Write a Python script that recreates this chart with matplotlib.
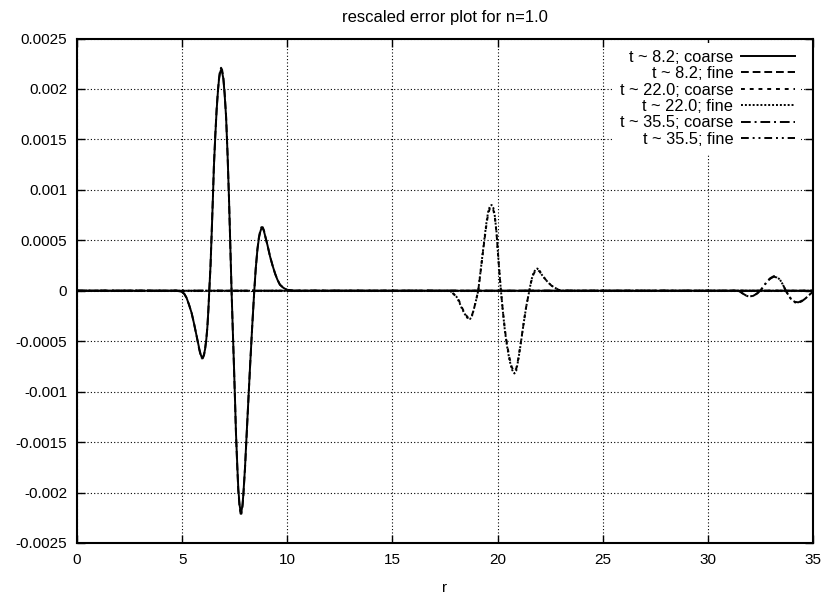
import numpy as np
import matplotlib.pyplot as plt

plt.rcParams['font.family'] = ['Liberation Sans', 'DejaVu Sans']

# packet near t ~ 8.2
r_a = [0, 4.5, 4.74, 4.98, 5.1, 5.21, 5.33, 5.45, 5.57, 5.69, 5.81, 5.88, 5.93, 5.98, 6.04,
       6.09, 6.15, 6.20, 6.25, 6.29, 6.35, 6.40, 6.46, 6.51, 6.58, 6.64, 6.70, 6.75, 6.80,
       6.85, 6.90, 6.96, 7.02, 7.09, 7.16, 7.23, 7.29, 7.35, 7.41, 7.47, 7.52, 7.56, 7.62,
       7.67, 7.73, 7.78, 7.82, 7.87, 7.91, 7.99, 8.07, 8.15, 8.23, 8.33, 8.43, 8.50, 8.58,
       8.65, 8.71, 8.77, 8.83, 8.89, 8.94, 9.06, 9.18, 9.30, 9.42, 9.53, 9.65, 9.81, 9.97,
       10.29, 35]
e_a_coarse = [0, 0, 0, -0.00001, -0.00003, -0.00007, -0.00014, -0.00022, -0.00033, -0.00045,
              -0.00057, -0.00063, -0.00066, -0.00066, -0.00063, -0.00058, -0.00048, -0.00036,
              -0.00018, 0, 0.00025, 0.00054, 0.0009, 0.00123, 0.00155, 0.00179, 0.00197,
              0.00209, 0.00216, 0.00219, 0.00217, 0.0021, 0.00195, 0.00172, 0.00135, 0.0009,
              0.00045, 0, -0.0004, -0.00078, -0.00112, -0.00141, -0.00172, -0.00196, -0.00212,
              -0.00219, -0.00219, -0.00212, -0.00202, -0.00175, -0.00141, -0.00108, -0.00075,
              -0.00036, 0, 0.00022, 0.00041, 0.00052, 0.00058, 0.00062, 0.00062, 0.00059,
              0.00055, 0.00045, 0.00034, 0.00025, 0.00017, 0.00011, 0.00006, 0.00003, 0.00001,
              0, 0]
e_a_fine = [0, 0, 0, -0.00001, -0.00003, -0.00007, -0.00014, -0.00022, -0.00033, -0.00045,
            -0.00058, -0.00064, -0.00067, -0.00067, -0.00064, -0.00058, -0.00048, -0.00036,
            -0.00018, 0, 0.00025, 0.00055, 0.00091, 0.00124, 0.00156, 0.0018, 0.00198,
            0.0021, 0.00218, 0.00221, 0.00219, 0.00211, 0.00196, 0.00173, 0.00135, 0.0009,
            0.00045, 0, -0.0004, -0.00079, -0.00113, -0.00142, -0.00174, -0.00198, -0.00214,
            -0.00221, -0.00221, -0.00214, -0.00203, -0.00176, -0.00142, -0.00108, -0.00075,
            -0.00036, 0, 0.00022, 0.00041, 0.00053, 0.00059, 0.00063, 0.00063, 0.0006,
            0.00055, 0.00045, 0.00034, 0.00025, 0.00017, 0.00011, 0.00006, 0.00003, 0.00001,
            0, 0]

# packet near t ~ 22.0
r_b = [0, 17.5, 17.74, 17.9, 18.05, 18.17, 18.29, 18.41, 18.53, 18.61, 18.69, 18.77, 18.85,
       18.96, 19.08, 19.16, 19.24, 19.32, 19.40, 19.48, 19.56, 19.64, 19.72, 19.80, 19.87,
       19.95, 20.03, 20.10, 20.16, 20.25, 20.35, 20.45, 20.56, 20.68, 20.80, 20.89, 20.98,
       21.10, 21.22, 21.36, 21.51, 21.60, 21.70, 21.80, 21.89, 22.00, 22.10, 22.25, 22.41,
       22.57, 22.73, 22.89, 23.05, 35]
e_b_coarse = [0, 0, 0, -0.00003, -0.00006, -0.0001, -0.00016, -0.00021, -0.00025, -0.00027,
              -0.00027, -0.00025, -0.0002, -0.00011, 0, 0.00013, 0.00027, 0.00041, 0.00054,
              0.00067, 0.00077, 0.00082, 0.00083, 0.0008, 0.00073, 0.00057, 0.00034, 0.00015,
              0, -0.0002, -0.00039, -0.00053, -0.00066, -0.00076, -0.0008, -0.00077, -0.00068,
              -0.00052, -0.00035, -0.00016, 0, 0.00009, 0.00016, 0.0002, 0.00021, 0.00019,
              0.00016, 0.00012, 0.00008, 0.00005, 0.00003, 0.00001, 0, 0]
e_b_fine = [0, 0, 0, -0.00003, -0.00006, -0.00011, -0.00017, -0.00022, -0.00026, -0.00028,
            -0.00028, -0.00026, -0.0002, -0.00011, 0, 0.00014, 0.00028, 0.00042, 0.00056,
            0.00069, 0.00079, 0.00084, 0.00085, 0.00082, 0.00074, 0.00058, 0.00034, 0.00015,
            0, -0.0002, -0.0004, -0.00055, -0.00068, -0.00078, -0.00082, -0.00079, -0.00069,
            -0.00053, -0.00035, -0.00016, 0, 0.0001, 0.00017, 0.00021, 0.00022, 0.0002,
            0.00016, 0.00012, 0.00008, 0.00005, 0.00003, 0.00001, 0, 0]

# packet near t ~ 35.5
r_c = [0, 31.2, 31.45, 31.68, 31.84, 32.00, 32.16, 32.32, 32.44, 32.56, 32.68, 32.80, 32.97,
       33.14, 33.29, 33.43, 33.57, 33.71, 33.85, 33.98, 34.14, 34.30, 34.46, 34.62, 34.78,
       34.94, 35]
e_c_coarse = [0, 0, 0, -0.00003, -0.00005, -0.000056, -0.00005, -0.00003, -0.00001, 0.000017,
              0.00005, 0.00009, 0.00012, 0.00014, 0.00013, 0.00011, 0.00006, 0, -0.00005,
              -0.00009, -0.00011, -0.000115, -0.0001, -0.00008, -0.00005, -0.00002, -0.00001]
e_c_fine = [0, 0, 0, -0.00003, -0.00005, -0.00006, -0.00005, -0.00003, -0.00001, 0.00002,
            0.00005, 0.00009, 0.000125, 0.000145, 0.000135, 0.00011, 0.00006, 0, -0.00005,
            -0.00009, -0.000115, -0.00012, -0.000105, -0.00008, -0.00005, -0.00002, -0.00001]

labels = ['t ~ 8.2; coarse', 't ~ 8.2; fine', 't ~ 22.0; coarse',
          't ~ 22.0; fine', 't ~ 35.5; coarse', 't ~ 35.5; fine']
xticks = [0, 5, 10, 15, 20, 25, 30, 35]
yticks = [-0.0025, -0.002, -0.0015, -0.001, -0.0005, 0, 0.0005, 0.001, 0.0015, 0.002, 0.0025]
ytick_labels = ['-0.0025', '-0.002', '-0.0015', '-0.001', '-0.0005', '0',
                '0.0005', '0.001', '0.0015', '0.002', '0.0025']

fig = plt.figure(figsize=(8.27, 5.97), dpi=100)
ax = fig.add_axes([77/827, 1-543/597, 736/827, 504.5/597])

styles = ['-', (0, (4, 2)), (0, (2, 2.5)), (0, (1, 1)), (0, (5, 2, 1, 2)), (0, (4, 2, 1, 2, 1, 2))]
series = [(r_a, e_a_coarse), (r_a, e_a_fine), (r_b, e_b_coarse),
          (r_b, e_b_fine), (r_c, e_c_coarse), (r_c, e_c_fine)]
for (r, e), ls, lab in zip(series, styles, labels):
    ax.plot(r, e, color='k', lw=1.4, ls=ls, label=lab)

ax.set_xlim(0, 35)
ax.set_ylim(-0.0025, 0.0025)
ax.set_xticks(xticks)
ax.set_xticklabels([str(x) for x in xticks])
ax.set_yticks(yticks)
ax.set_yticklabels(ytick_labels)
ax.tick_params(direction='in', length=6, width=1, top=True, right=True,
               labelsize=11, pad=7, colors='k')
ax.grid(True, color='k', ls=(0, (1, 2)), lw=0.8)
for s in ax.spines.values():
    s.set_linewidth(1.5)

ax.set_title('rescaled error plot for n=1.0', fontsize=12, pad=12)
ax.set_xlabel('r', fontsize=11, labelpad=10)

# key box blanks the grid behind it
leg = ax.legend(loc='upper right', bbox_to_anchor=(0.984, 0.991), borderaxespad=0,
                frameon=True, fancybox=False, markerfirst=False, fontsize=11.8,
                handlelength=3.3, labelspacing=0.09, handletextpad=0.45)
leg.get_frame().set_edgecolor('none')
leg.get_frame().set_facecolor('white')
leg.get_frame().set_alpha(1)

fig.savefig('out.png', dpi=100)
